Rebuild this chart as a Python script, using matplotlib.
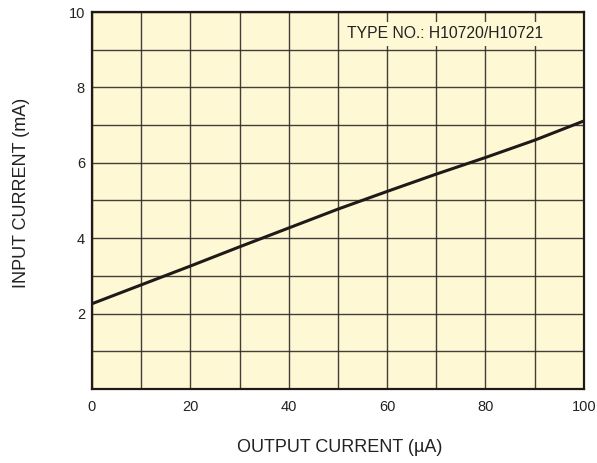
import matplotlib.pyplot as plt

plt.rcParams['font.family'] = ['Liberation Sans', 'DejaVu Sans']

# Input current vs output current
output_current = [0, 10, 20, 30, 40, 50, 60, 70, 80, 90, 100]
input_current = [2.26, 2.76, 3.26, 3.77, 4.27, 4.77, 5.24, 5.70, 6.14, 6.60, 7.11]

x_ticks = [0, 20, 40, 60, 80, 100]
y_ticks = [2, 4, 6, 8, 10]

bg = '#fff8d5'
grid_color = '#2e2a26'

fig = plt.figure(figsize=(5.97, 4.63), dpi=100)
ax = fig.add_axes([0.154, 0.160, 0.824, 0.814])
ax.set_facecolor(bg)

ax.set_xlim(0, 100)
ax.set_ylim(0, 10)
ax.set_xticks(x_ticks)
ax.set_yticks(y_ticks)
ax.set_xticks(range(0, 101, 10), minor=True)
ax.set_yticks(range(0, 11, 1), minor=True)
ax.grid(True, which='both', color=grid_color, linewidth=1.0, alpha=0.9)
ax.tick_params(which='both', length=0, labelsize=10.5, colors='#222222')
ax.tick_params(axis='x', pad=8)
ax.tick_params(axis='y', pad=5)

ax.plot(output_current, input_current, color='#1e1a18', linewidth=2.2)

for s in ax.spines.values():
    s.set_linewidth(1.6)
    s.set_color('#1e1a18')

ax.text(51.8, 9.42, 'TYPE NO.: H10720/H10721', fontsize=11.3, color='#222222',
        va='center', ha='left',
        bbox=dict(facecolor=bg, edgecolor='none', pad=3.5))

fig.text(340 / 597, 1 - 447 / 463, 'OUTPUT CURRENT (µA)', fontsize=13, color='#222222',
         ha='center', va='center')
fig.text(22 / 597, 1 - 193 / 463, 'INPUT CURRENT (mA)', fontsize=13, color='#222222',
         ha='center', va='center', rotation=90)

fig.savefig('out.png', dpi=100)
